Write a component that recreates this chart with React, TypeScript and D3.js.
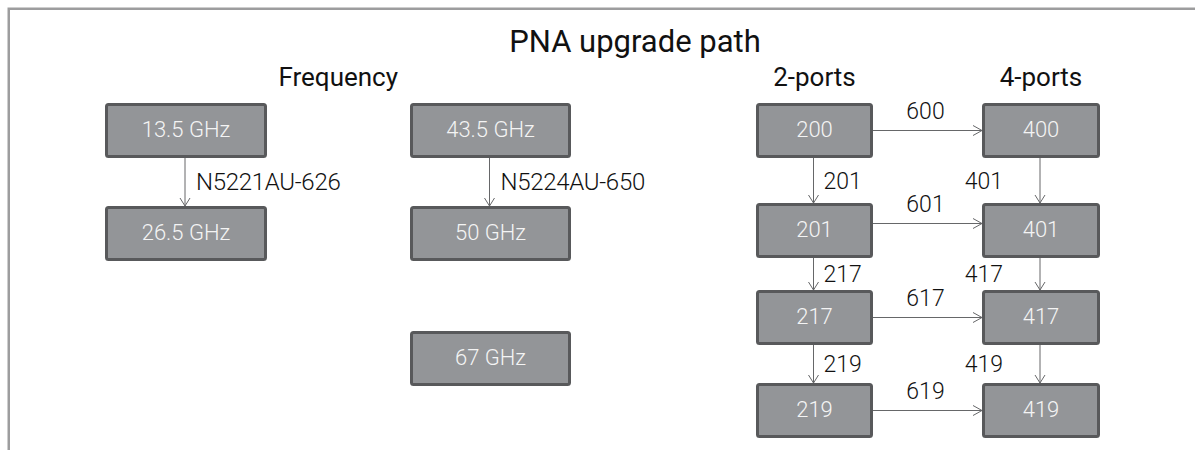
import * as d3 from "d3"

const W = 1195
const H = 450

const title = "PNA upgrade path"
const columnHeads = ["Frequency", "2-ports", "4-ports"]

// frequency upgrades
const freqNodes = [
    { id: "13.5", label: "13.5 GHz", col: "A", row: 0 },
    { id: "26.5", label: "26.5 GHz", col: "A", row: 1 },
    { id: "43.5", label: "43.5 GHz", col: "B", row: 0 },
    { id: "50", label: "50 GHz", col: "B", row: 1 },
    { id: "67", label: "67 GHz", col: "B", row: 2 },
]
const freqLinks = [
    { from: "13.5", to: "26.5", code: "N5221AU-626" },
    { from: "43.5", to: "50", code: "N5224AU-650" },
]

// port upgrades
const twoPortModels = ["200", "201", "217", "219"]
const fourPortModels = ["400", "401", "417", "419"]
const twoPortUpgrades = ["201", "217", "219"]
const fourPortUpgrades = ["401", "417", "419"]
const crossUpgrades = ["600", "601", "617", "619"]

const FONT = "Roboto, 'Liberation Sans', sans-serif"
const BOX_FILL = "#939598"
const BOX_STROKE = "#58595b"
const LINE = "#666769"
const BOX_H = 55

const colX = d3.scaleOrdinal<string, number>()
    .domain(["A", "B", "P2", "P4"])
    .range([105, 410, 756, 982])
const colW = d3.scaleOrdinal<string, number>()
    .domain(["A", "B", "P2", "P4"])
    .range([162, 161, 117, 118])
const freqRowY = d3.scaleOrdinal<number, number>()
    .domain([0, 1, 2])
    .range([103, 206, 331])
const portRowY = d3.scaleOrdinal<number, number>()
    .domain([0, 1, 2, 3])
    .range([103, 203, 290, 383])
// the 601 link sits a little above the box centre in the original
const crossShift = d3.scaleOrdinal<string, number>().domain(["601"]).range([-7]).unknown(0)

type Box = { id: string, label: string, x: number, y: number, w: number }

const freqBoxes: Box[] = freqNodes.map(d => ({
    id: d.id, label: d.label, x: colX(d.col), y: freqRowY(d.row), w: colW(d.col),
}))
const portBoxes: Box[] = [
    ...twoPortModels.map((m, i) => ({ id: "2-" + m, label: m, x: colX("P2"), y: portRowY(i), w: colW("P2") })),
    ...fourPortModels.map((m, i) => ({ id: "4-" + m, label: m, x: colX("P4"), y: portRowY(i), w: colW("P4") })),
]
const boxes = [...freqBoxes, ...portBoxes]
const byId = new Map(boxes.map(b => [b.id, b]))

function cx(b: Box) { return b.x + b.w / 2 }

function downArrow(x: number, y1: number, y2: number) {
    return `M${x},${y1}V${y2}M${x - 5},${y2 - 8}L${x},${y2}L${x + 5},${y2 - 8}`
}
function rightArrow(x1: number, x2: number, y: number) {
    return `M${x1},${y}H${x2}M${x2 - 9},${y - 5}L${x2},${y}L${x2 - 9},${y + 5}`
}

export default function App() {
    const vLinks = [
        ...freqLinks.map(l => ({ a: byId.get(l.from)!, b: byId.get(l.to)!, code: l.code, side: "right" })),
        ...twoPortUpgrades.map((c, i) => ({
            a: byId.get("2-" + twoPortModels[i])!, b: byId.get("2-" + twoPortModels[i + 1])!, code: c, side: "right",
        })),
        ...fourPortUpgrades.map((c, i) => ({
            a: byId.get("4-" + fourPortModels[i])!, b: byId.get("4-" + fourPortModels[i + 1])!, code: c, side: "left",
        })),
    ]
    const hLinks = crossUpgrades.map((c, i) => ({
        a: byId.get("2-" + twoPortModels[i])!, b: byId.get("4-" + fourPortModels[i])!, code: c,
    }))

    const freqCenter = (cx(freqBoxes[0]) + cx(freqBoxes[2])) / 2
    const headX = [freqCenter, colX("P2") + colW("P2") / 2, colX("P4") + colW("P4") / 2]

    return (
        <svg width={W} height={H} style={{ position: "absolute", left: 0, top: 0, background: "#fff" }}
            fontFamily={FONT}>
            <path d={`M8.75,${H + 2}V8.75H${W + 2}`} fill="none" stroke="#9d9d9e" strokeWidth={2.5} />

            <text x={635} y={52} textAnchor="middle" fontSize={31} fill="#111">{title}</text>
            {columnHeads.map((h, i) => (
                <text key={h} x={headX[i]} y={86} textAnchor="middle" fontSize={26} fill="#111">{h}</text>
            ))}

            {vLinks.map(l => {
                const x = cx(l.a) - 1
                const y1 = l.a.y + BOX_H
                const y2 = l.b.y
                const mid = (y1 + y2) / 2
                const long = l.code.length > 3
                return (
                    <g key={l.code + l.side}>
                        <path d={downArrow(x, y1, y2)} fill="none" stroke={LINE} strokeWidth={1} />
                        <text x={l.side === "right" ? x + (long ? 11 : 10) : x - 37} y={mid + 8}
                            textAnchor={l.side === "right" ? "start" : "end"}
                            fontSize={long ? 24 : 23} fontWeight={300}
                            letterSpacing={long ? -0.3 : 0} fill="#111">{l.code}</text>
                    </g>
                )
            })}

            {hLinks.map(l => {
                const y = l.a.y + BOX_H / 2 + crossShift(l.code)
                const x1 = l.a.x + l.a.w
                const x2 = l.b.x
                return (
                    <g key={l.code}>
                        <path d={rightArrow(x1, x2, y)} fill="none" stroke={LINE} strokeWidth={1} />
                        <text x={(x1 + x2) / 2 - 2} y={y - 12} textAnchor="middle" fontSize={23}
                            fontWeight={300} fill="#111">{l.code}</text>
                    </g>
                )
            })}

            {boxes.map(b => (
                <g key={b.id}>
                    <rect x={b.x + 1.5} y={b.y + 1.5} width={b.w - 3} height={BOX_H - 3} rx={2}
                        fill={BOX_FILL} stroke={BOX_STROKE} strokeWidth={3} />
                    <text x={cx(b)} y={b.y + BOX_H / 2 + 1} textAnchor="middle" dominantBaseline="middle"
                        fontSize={22} fontWeight={300} fill="#f4f4f4">{b.label}</text>
                </g>
            ))}
        </svg>
    )
}
